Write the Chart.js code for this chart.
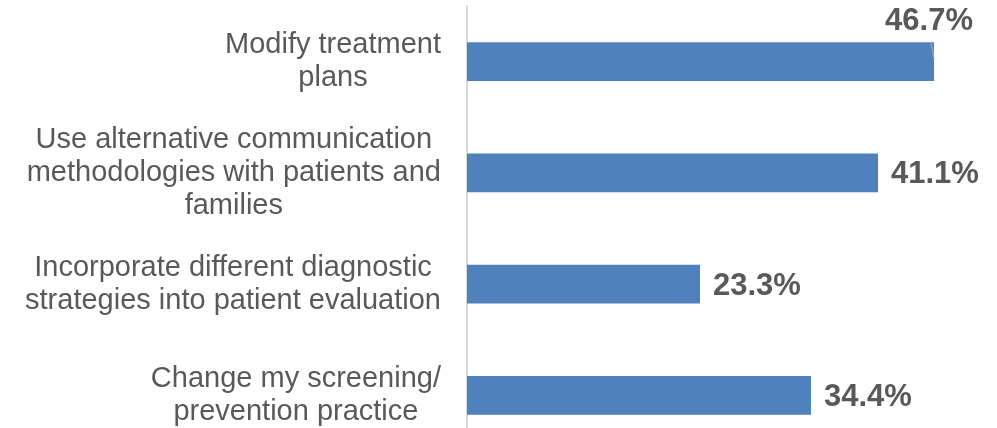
<!DOCTYPE html>
<html>
<head>
<meta charset="utf-8">
<script src="https://cdn.jsdelivr.net/npm/chart.js@4.4.0/dist/chart.umd.min.js"></script>
<style>
  html, body { margin: 0; padding: 0; background: #fff; overflow: hidden; }
  #wrap { width: 997px; height: 452px; position: relative; }
</style>
</head>
<body>
<div id="wrap"><canvas id="barChart"></canvas></div>
<script>
  const categories = [
    ['Modify treatment', 'plans'],
    ['Use alternative communication', 'methodologies with patients and', 'families'],
    ['Incorporate different diagnostic', 'strategies into patient evaluation'],
    ['Change my screening/', 'prevention practice']
  ];
  const values = [46.7, 41.1, 23.3, 34.4];
  const valueLabels = ['46.7%', '41.1%', '23.3%', '34.4%'];

  const TEXT_COLOR = '#595959';
  const FONT = '"Liberation Sans", Arial, sans-serif';

  // category labels: centred lines, block right-aligned next to the axis
  // value labels: after the bar, or above it when it would not fit
  const labelPlugin = {
    id: 'labelPlugin',
    afterDatasetsDraw(chart) {
      const ctx = chart.ctx;
      const area = chart.chartArea;
      const yScale = chart.scales.y;
      const meta = chart.getDatasetMeta(0);
      ctx.save();

      ctx.font = '29px ' + FONT;
      ctx.fillStyle = TEXT_COLOR;
      ctx.textAlign = 'center';
      ctx.textBaseline = 'middle';
      const lineH = 33;
      categories.forEach(function(lines, i) {
        const yc = yScale.getPixelForTick(i);
        const maxW = Math.max.apply(null, lines.map(l => ctx.measureText(l).width));
        const cx = area.left - 26 - maxW / 2;
        const y0 = yc - (lines.length - 1) * lineH / 2;
        lines.forEach(function(l, k) { ctx.fillText(l, cx, y0 + k * lineH); });
      });

      ctx.font = 'bold 31px ' + FONT;
      meta.data.forEach(function(bar, i) {
        const txt = valueLabels[i];
        const w = ctx.measureText(txt).width;
        const top = bar.y - bar.height / 2;
        if (bar.x + 13 + w > chart.width) {
          ctx.textAlign = 'right';
          ctx.textBaseline = 'middle';
          ctx.fillText(txt, bar.x + 39, top - 21);
          ctx.strokeStyle = '#A6A6A6';
          ctx.lineWidth = 1.2;
          ctx.beginPath();
          ctx.moveTo(bar.x - 3, top);
          ctx.lineTo(bar.x, top + 17);
          ctx.stroke();
        } else {
          ctx.textAlign = 'left';
          ctx.textBaseline = 'middle';
          ctx.fillText(txt, bar.x + 13, bar.y + 2);
        }
      });
      ctx.restore();
    }
  };

  document.addEventListener('DOMContentLoaded', function() {
    const ctx = document.getElementById('barChart').getContext('2d');
    new Chart(ctx, {
      type: 'bar',
      data: {
        labels: categories,
        datasets: [{
          data: values,
          backgroundColor: '#4F81BD',
          borderWidth: 0,
          categoryPercentage: 1,
          barPercentage: 0.35
        }]
      },
      options: {
        indexAxis: 'y',
        responsive: true,
        maintainAspectRatio: false,
        animation: false,
        layout: { padding: { top: 6, bottom: 1, right: 30, left: 0 } },
        plugins: {
          legend: { display: false },
          tooltip: { enabled: false }
        },
        scales: {
          x: {
            min: 0,
            max: 50,
            display: false
          },
          y: {
            grid: { display: false },
            border: { display: true, color: '#D9D9D9', width: 2 },
            ticks: { display: false },
            afterFit: function(scale) { scale.width = 467; }
          }
        }
      },
      plugins: [labelPlugin]
    });
  });
</script>
</body>
</html>
